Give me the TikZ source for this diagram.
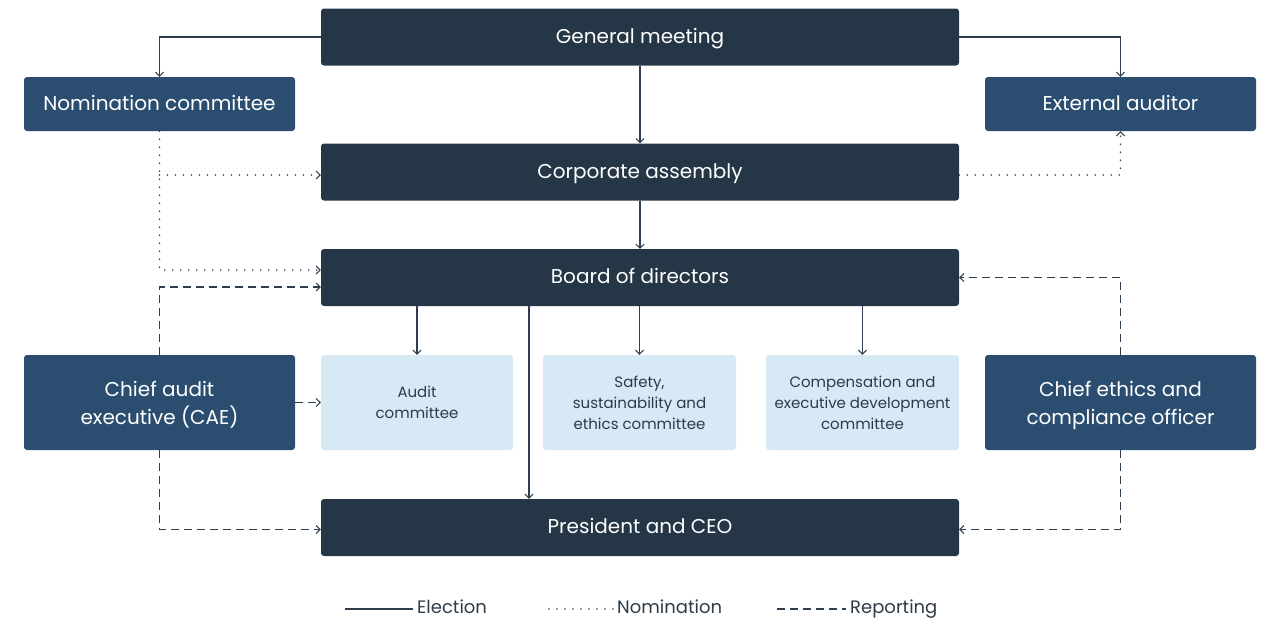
\documentclass[tikz,border=0pt]{standalone}
\usepackage{fontspec}
\setmainfont{Poppins}
\usetikzlibrary{arrows.meta,calc}
\definecolor{darkbox}{HTML}{253646}
\definecolor{midbox}{HTML}{2B4E70}
\definecolor{lightbox}{HTML}{D6E9F4}
\definecolor{linec}{HTML}{2E3E4E}
\definecolor{txtdark}{HTML}{2E3B47}
\begin{document}
\begin{tikzpicture}[x=1pt,y=-1pt,
  box/.style={rounded corners=3pt, inner sep=0pt, align=center, text=white},
  widebox/.style={box, fill=darkbox, minimum width=638pt, minimum height=57pt, text height=15pt, text depth=3pt, font=\fontsize{20}{24}\selectfont},
  sidebox/.style={box, fill=midbox, minimum width=271pt, font=\fontsize{20}{28}\selectfont},
  onebox/.style={sidebox, minimum height=54pt, text height=15pt, text depth=3pt},
  twobox/.style={sidebox, minimum height=95pt, text depth=0pt},
  combox/.style={box, fill=lightbox, text=txtdark, minimum width=193pt, minimum height=95pt, font=\fontsize{15}{21}\selectfont},
  tip/.style={-{Straight Barb[length=4pt,width=8pt,line width=1pt]}},
  elec/.style={draw=linec, line width=1.1pt, tip},
  nomin/.style={draw=linec, line width=1.7pt, line cap=round, dash pattern=on 0pt off 8pt, tip},
  report/.style={draw=linec, line width=1.2pt, dash pattern=on 8pt off 5pt, tip},
  legtext/.style={text=txtdark, inner xsep=4pt, inner ysep=0pt, anchor=west, text height=13pt, text depth=4pt, font=\fontsize{18}{20}\selectfont}
]
\useasboundingbox (0,0) rectangle (1267,621);
\node[widebox] (gm) at (640,37) {General meeting};
\node[widebox] (ca) at (640,172) {Corporate assembly};
\node[widebox] (bod) at (640,277.5) {Board of directors};
\node[widebox] (ceo) at (640,527.5) {President and CEO};
\node[onebox] (nom) at (159.5,104) {Nomination committee};
\node[onebox] (ext) at (1120.5,104) {External auditor};
\node[twobox] (cae) at (159.5,402.5) {Chief audit\\executive (CAE)};
\node[twobox] (ceco) at (1120.5,402.5) {Chief ethics and\\compliance officer};
\node[combox, minimum width=192pt] (aud) at (417,402.5) {Audit\\committee};
\node[combox] (saf) at (639.5,402.5) {Safety,\\sustainability and\\ethics committee};
\node[combox] (comp) at (862.5,402.5) {Compensation and\\executive development\\committee};
% election
\draw[elec] (gm.west) -| (nom.north);
\draw[elec] (gm.east) -| (ext.north);
\draw[elec] (gm) -- (ca);
\draw[elec] (ca) -- (bod);
\draw[elec] (aud.north |- bod.south) -- (aud.north);
\draw[elec] (saf.north |- bod.south) -- (saf.north);
\draw[elec] (comp.north |- bod.south) -- (comp.north);
\draw[elec] ([xshift=-111pt]bod.south) -- ([xshift=-111pt]ceo.north);
% nomination
\coordinate (caw) at ([yshift=-3pt]ca.west);
\coordinate (cae2) at ([yshift=-3pt]ca.east);
\coordinate (nb) at (nom.south |- caw);
\draw[nomin] (nom.south) |- ([yshift=7.5pt]bod.west);
\draw[nomin] (nb) -- (caw);
\draw[nomin] (cae2) -| (ext.south);
% reporting
\draw[report] (cae.north) |- ([yshift=-9.5pt]bod.west);
\draw[report] (cae.east) -- (aud.west);
\draw[report] (cae.south) |- ([yshift=-2pt]ceo.west);
\draw[report] (ceco.north) |- (bod.east);
\draw[report] (ceco.south) |- ([yshift=-2pt]ceo.east);
% legend
\node[legtext] (leg1) at (413,609) {Election};
\node[legtext] (leg2) at (613,609) {Nomination};
\node[legtext] (leg3) at (846,609) {Reporting};
\coordinate (l1) at (345,609);
\coordinate (l2) at (549,609);
\coordinate (l3) at (777,609);
\draw[draw=linec, line width=1.1pt] (l1) -- (leg1.west);
\draw[draw=linec, line width=1.7pt, line cap=round, dash pattern=on 0pt off 8pt] (l2) -- (leg2.west);
\draw[draw=linec, line width=1.2pt, dash pattern=on 8pt off 5pt] (l3) -- (leg3.west);
\end{tikzpicture}
\end{document}
